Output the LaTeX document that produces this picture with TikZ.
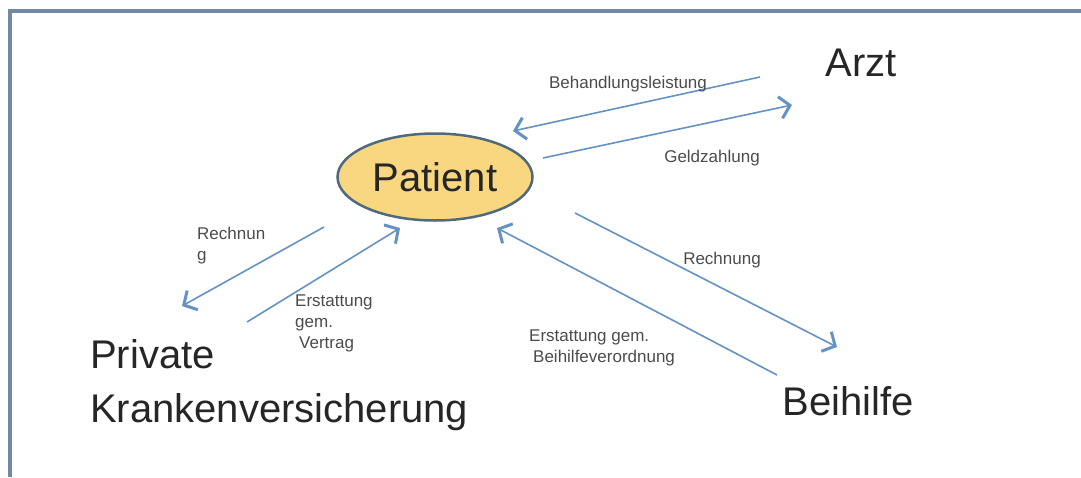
\documentclass[tikz,border=0pt]{standalone}
\usepackage{fontspec}
\setmainfont{Liberation Sans}
\usetikzlibrary{positioning,arrows.meta,shapes.geometric}
\definecolor{frameblue}{HTML}{7089A4}
\definecolor{flowblue}{HTML}{6592C4}
\definecolor{patfill}{HTML}{F8D780}
\definecolor{patline}{HTML}{4F6A7A}
\tikzset{
  party/.style ={font=\fontsize{40}{50}\selectfont, inner sep=0pt, text=black!85},
  pat/.style   ={party, ellipse, draw=patline, fill=patfill, line width=2.5pt,
                 minimum width=195pt, minimum height=87pt},
  lbl/.style   ={font=\fontsize{17}{21}\selectfont, inner sep=0pt, text=black!70,
                 align=left},
  fl/.style    ={flowblue, line width=1.6pt,
                 -{Straight Barb[length=10pt,width=22pt,line width=3pt]}},
  frm/.style   ={frameblue, line width=4pt}
}

\begin{document}
\begin{tikzpicture}[x=1pt,y=-1pt]
  \useasboundingbox (0,0) rectangle (1081,477);
  \fill[white] (0,0) rectangle (1081,477);
  \draw[frm] (10,477) -- (10,11) -- (1081,11);

  \node[pat](patient) at (435,177){Patient};
  \node[party](arzt) at (861,63){Arzt};
  \node[party, anchor=north west, align=left, font=\fontsize{40}{54}\selectfont]
       (pkv) at (90,339){Private\\Krankenversicherung};
  \node[party](beihilfe) at (848,401){Beihilfe};

  % ends of the flows (they stop short of the nodes)
  \coordinate (a1) at (760,77);  \coordinate (p1) at (513,131);
  \coordinate (p2) at (543,158); \coordinate (a2) at (792,105);
  \coordinate (p3) at (324,227); \coordinate (k1) at (182,306);
  \coordinate (k2) at (247,322); \coordinate (p4) at (400,228);
  \coordinate (p5) at (575,213); \coordinate (b1) at (837,347);
  \coordinate (b2) at (777,375); \coordinate (p6) at (497,228);

  \draw[fl](a1)--(p1);
  \draw[fl](p2)--(a2);
  \draw[fl](p3)--(k1);
  \draw[fl](k2)--(p4);
  \draw[fl](p5)--(b1);
  \draw[fl](b2)--(p6);

  \node[lbl](behand) at (628,84){Behandlungsleistung};
  \node[lbl](geld) at (712,158){Geldzahlung};
  \node[lbl, anchor=north west](rechL) at (197,227){Rechnun\\g};
  \node[lbl, anchor=north west](erstV) at (295,295){Erstattung\\gem.\\\hspace*{4pt}Vertrag};
  \node[lbl](rechR) at (722,260){Rechnung};
  \node[lbl, anchor=north west](erstB) at (529,330){Erstattung gem.\\\hspace*{4pt}Beihilfeverordnung};
\end{tikzpicture}
\end{document}
